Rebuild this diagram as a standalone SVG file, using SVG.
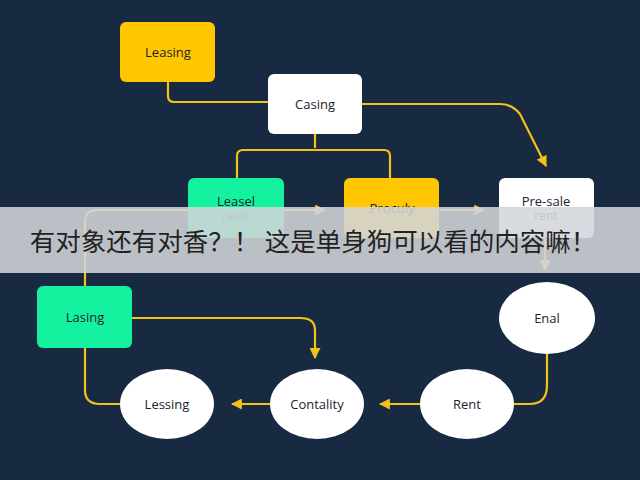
<svg xmlns="http://www.w3.org/2000/svg" width="640" height="480" viewBox="0 0 640 480">
<defs>
<marker id="ah" viewBox="0 0 10 10" refX="9" refY="5" markerWidth="5" markerHeight="5" orient="auto"><path d="M0,0 L10,5 L0,10 z" fill="#f2c21b"/></marker>
<style>
.ln{fill:none;stroke:#f2c21b;stroke-width:2.2}
.t{font-family:"Open Sans","Liberation Sans",sans-serif;font-size:13px;fill:#1d2230;text-anchor:middle}
.s{font-family:"Open Sans","Liberation Sans",sans-serif;font-size:12px;fill:#555;text-anchor:middle}
.y{fill:#ffc700}.g{fill:#14f2a0}.w{fill:#ffffff}
</style>
</defs>
<rect width="640" height="480" fill="#182a41"/>
<g id="connectors">
<path class="ln" d="M168,82 V96 Q168,102 174,102 H268"/>
<path class="ln" marker-end="url(#ah)" d="M362,104 H500 Q512,104 520,114 L546,166"/>
<path class="ln" d="M315,134 V148 M237,178 V156 Q237,150 243,150 H384 Q390,150 390,156 V178"/>
<path class="ln" marker-end="url(#ah)" d="M284,210 H325"/>
<path class="ln" marker-end="url(#ah)" d="M439,210 H484"/>
<path class="ln" d="M85,286 V222 Q85,210 97,210 H188"/>
<path class="ln" marker-end="url(#ah)" d="M545,238 V270"/>
<path class="ln" marker-end="url(#ah)" d="M132,318 H300 Q315,318 315,330 V358"/>
<path class="ln" d="M85,348 V390 Q85,404 100,404 H120"/>
<path class="ln" d="M547,354 V385 Q547,404 530,404 H514"/>
<path class="ln" marker-end="url(#ah)" d="M420,404 H380"/>
<path class="ln" marker-end="url(#ah)" d="M270,404 H232"/>
</g>
<g id="leasing-top"><rect class="y" x="120" y="22" width="95" height="60" rx="6"/><text class="t" x="168" y="57">Leasing</text></g>
<g id="casing"><rect class="w" x="268" y="74" width="94" height="60" rx="6"/><text class="t" x="315" y="109">Casing</text></g>
<g id="leasel"><rect class="g" x="188" y="178" width="96" height="60" rx="6"/><text class="t" x="236" y="206">Leasel</text><text class="s" x="236" y="220">resat</text></g>
<g id="proculy"><rect class="y" x="344" y="178" width="95" height="60" rx="6"/><text class="t" x="392" y="213">Proculy</text></g>
<g id="presale"><rect class="w" x="499" y="178" width="95" height="60" rx="6"/><text class="t" x="546" y="206">Pre-sale</text><text class="s" x="546" y="220">rent</text></g>
<g id="lasing"><rect class="g" x="37" y="286" width="95" height="62" rx="6"/><text class="t" x="85" y="322">Lasing</text></g>
<g id="enal"><ellipse class="w" cx="547" cy="318" rx="48" ry="36"/><text class="t" x="547" y="323">Enal</text></g>
<g id="lessing"><ellipse class="w" cx="167" cy="404" rx="47" ry="35"/><text class="t" x="167" y="409">Lessing</text></g>
<g id="contality"><ellipse class="w" cx="317" cy="404" rx="47" ry="35"/><text class="t" x="317" y="409">Contality</text></g>
<g id="rent"><ellipse class="w" cx="467" cy="404" rx="47" ry="35"/><text class="t" x="467" y="409">Rent</text></g>
<g id="banner"><rect x="0" y="207" width="640" height="66" fill="#d2d5d9" fill-opacity="0.88"/><text x="313" y="251" font-family="'Noto Sans CJK SC',sans-serif" font-size="25.5" fill="#222" text-anchor="middle">有对象还有对香？！ 这是单身狗可以看的内容嘛！</text></g>
</svg>
